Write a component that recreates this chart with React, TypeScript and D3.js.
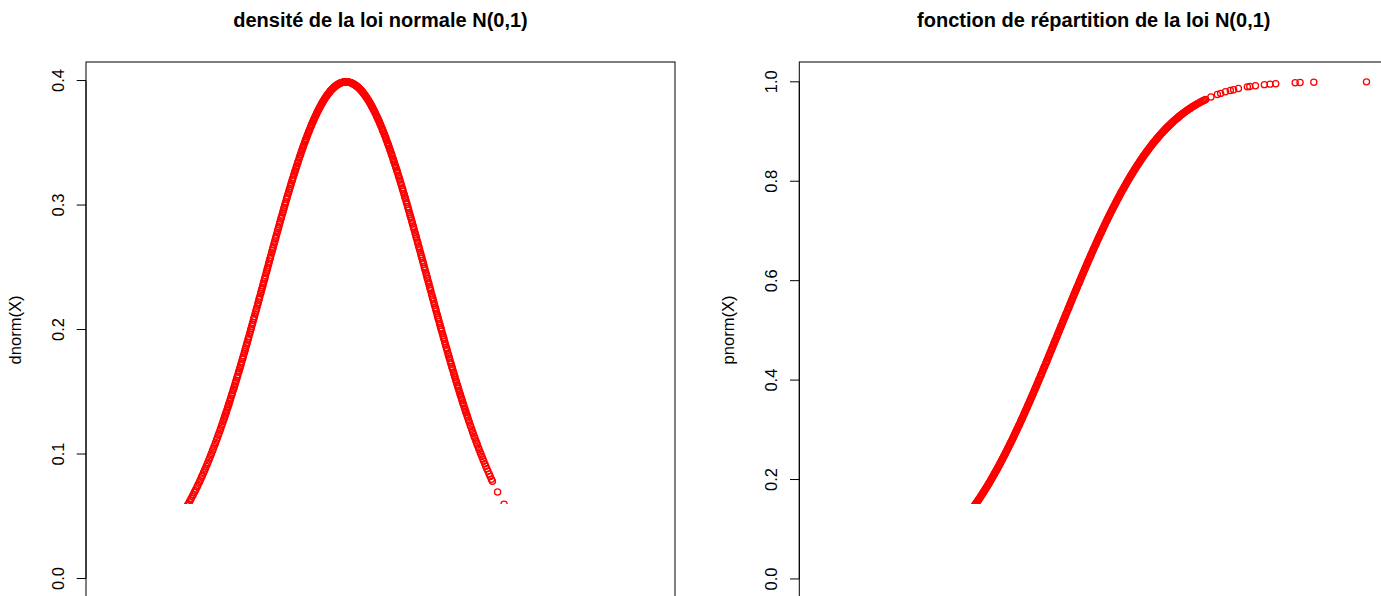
import React from "react";
import * as d3 from "d3";

// Sample X (sorted)
const X_LOW_TAIL = [-2.94, -2.68, -2.51, -2.43, -2.36, -2.29, -2.24, -2.19, -2.15, -2.11, -2.07, -2.04, -2.01, -1.995];
const X_LOW_SHOULDER = [-1.983, -1.971, -1.958, -1.949, -1.934, -1.922, -1.911, -1.897, -1.886, -1.873, -1.862, -1.851, -1.838, -1.829, -1.815, -1.804, -1.793, -1.781, -1.772, -1.759, -1.748, -1.737, -1.726, -1.714, -1.705, -1.693, -1.682, -1.671, -1.661, -1.649, -1.64, -1.629, -1.618, -1.609, -1.598, -1.588, -1.577, -1.568, -1.557, -1.548, -1.538, -1.529, -1.519, -1.51, -1.503];
const X_CORE_NEG = [
  -1.497, -1.491, -1.483, -1.478, -1.471, -1.462, -1.456, -1.449, -1.444, -1.436, -1.429,
  -1.423, -1.415, -1.41, -1.403, -1.394, -1.388, -1.381, -1.376, -1.368, -1.361,
  -1.355, -1.347, -1.342, -1.335, -1.326, -1.32, -1.313, -1.308, -1.3, -1.293,
  -1.287, -1.279, -1.274, -1.267, -1.258, -1.252, -1.245, -1.24, -1.232, -1.225,
  -1.219, -1.211, -1.206, -1.199, -1.19, -1.184, -1.177, -1.172, -1.164, -1.157,
  -1.151, -1.143, -1.138, -1.131, -1.122, -1.116, -1.109, -1.104, -1.096, -1.089,
  -1.083, -1.075, -1.07, -1.063, -1.054, -1.048, -1.041, -1.036, -1.028, -1.021,
  -1.015, -1.007, -1.002, -0.995, -0.986, -0.98, -0.973, -0.968, -0.96, -0.953,
  -0.947, -0.939, -0.934, -0.927, -0.918, -0.912, -0.905, -0.9, -0.892, -0.885,
  -0.879, -0.871, -0.866, -0.859, -0.85, -0.844, -0.837, -0.832, -0.824, -0.817,
  -0.811, -0.803, -0.798, -0.791, -0.782, -0.776, -0.769, -0.764, -0.756, -0.749,
  -0.743, -0.735, -0.73, -0.723, -0.714, -0.708, -0.701, -0.696, -0.688, -0.681,
  -0.675, -0.667, -0.662, -0.655, -0.646, -0.64, -0.633, -0.628, -0.62, -0.613,
  -0.607, -0.599, -0.594, -0.587, -0.578, -0.572, -0.565, -0.56, -0.552, -0.545,
  -0.539, -0.531, -0.526, -0.519, -0.51, -0.504, -0.497, -0.492, -0.484, -0.477,
  -0.471, -0.463, -0.458, -0.451, -0.442, -0.436, -0.429, -0.424, -0.416, -0.409,
  -0.403, -0.395, -0.39, -0.383, -0.374, -0.368, -0.361, -0.356, -0.348, -0.341,
  -0.335, -0.327, -0.322, -0.315, -0.306, -0.3, -0.293, -0.288, -0.28, -0.273,
  -0.267, -0.259, -0.254, -0.247, -0.238, -0.232, -0.225, -0.22, -0.212, -0.205,
  -0.199, -0.191, -0.186, -0.179, -0.17, -0.164, -0.157, -0.152, -0.144, -0.137,
  -0.131, -0.123, -0.118, -0.111, -0.102, -0.096, -0.089, -0.084, -0.076, -0.069,
  -0.063, -0.055, -0.05, -0.043, -0.034, -0.028, -0.021, -0.016, -0.008, -0.001,
];
const X_CORE_POS = [
  0.005, 0.013, 0.018, 0.025, 0.034, 0.04, 0.047, 0.052, 0.06, 0.067,
  0.073, 0.081, 0.086, 0.093, 0.102, 0.108, 0.115, 0.12, 0.128, 0.135,
  0.141, 0.149, 0.154, 0.161, 0.17, 0.176, 0.183, 0.188, 0.196, 0.203,
  0.209, 0.217, 0.222, 0.229, 0.238, 0.244, 0.251, 0.256, 0.264, 0.271,
  0.277, 0.285, 0.29, 0.297, 0.306, 0.312, 0.319, 0.324, 0.332, 0.339,
  0.345, 0.353, 0.358, 0.365, 0.374, 0.38, 0.387, 0.392, 0.4, 0.407,
  0.413, 0.421, 0.426, 0.433, 0.442, 0.448, 0.455, 0.46, 0.468, 0.475,
  0.481, 0.489, 0.494, 0.501, 0.51, 0.516, 0.523, 0.528, 0.536, 0.543,
  0.549, 0.557, 0.562, 0.569, 0.578, 0.584, 0.591, 0.596, 0.604, 0.611,
  0.617, 0.625, 0.63, 0.637, 0.646, 0.652, 0.659, 0.664, 0.672, 0.679,
  0.685, 0.693, 0.698, 0.705, 0.714, 0.72, 0.727, 0.732, 0.74, 0.747,
  0.753, 0.761, 0.766, 0.773, 0.782, 0.788, 0.795, 0.8, 0.808, 0.815,
  0.821, 0.829, 0.834, 0.841, 0.85, 0.856, 0.863, 0.868, 0.876, 0.883,
  0.889, 0.897, 0.902, 0.909, 0.918, 0.924, 0.931, 0.936, 0.944, 0.951,
  0.957, 0.965, 0.97, 0.977, 0.986, 0.992, 0.999, 1.004, 1.012, 1.019,
  1.025, 1.033, 1.038, 1.045, 1.054, 1.06, 1.067, 1.072, 1.08, 1.087,
  1.093, 1.101, 1.106, 1.113, 1.122, 1.128, 1.135, 1.14, 1.148, 1.155,
  1.161, 1.169, 1.174, 1.181, 1.19, 1.196, 1.203, 1.208, 1.216, 1.223,
  1.229, 1.237, 1.242, 1.249, 1.258, 1.264, 1.271, 1.276, 1.284, 1.291,
  1.297, 1.305, 1.31, 1.317, 1.326, 1.332, 1.339, 1.344, 1.352, 1.359,
  1.365, 1.373, 1.378, 1.385, 1.394, 1.4, 1.407, 1.412, 1.42, 1.427,
  1.433, 1.441, 1.446, 1.453, 1.462, 1.468, 1.475, 1.48, 1.488, 1.495,
];
const X_HIGH_SHOULDER = [1.503, 1.512, 1.521, 1.532, 1.54, 1.551, 1.561, 1.57, 1.581, 1.59, 1.601, 1.612, 1.621, 1.633, 1.642, 1.654, 1.665, 1.676, 1.688, 1.699, 1.712, 1.724, 1.737, 1.751, 1.766, 1.779, 1.794, 1.806];
const X_HIGH_TAIL = [1.87, 1.95, 1.99, 2.05, 2.11, 2.15, 2.21, 2.32, 2.35, 2.42, 2.53, 2.6, 2.67, 2.91, 2.97, 3.14, 3.79];

const DENS_TICKS = [0, 0.1, 0.2, 0.3, 0.4];
const CDF_TICKS = [0, 0.2, 0.4, 0.6, 0.8, 1.0];

const TITLE_DENS = "densité de la loi normale N(0,1)";
const TITLE_CDF = "fonction de répartition de la loi N(0,1)";
const YLAB_DENS = "dnorm(X)";
const YLAB_CDF = "pnorm(X)";

const X: number[] = [
  ...X_LOW_TAIL,
  ...X_LOW_SHOULDER,
  ...X_CORE_NEG,
  ...X_CORE_POS,
  ...X_HIGH_SHOULDER,
  ...X_HIGH_TAIL,
];

function dnorm(x: number) {
  return Math.exp((-x * x) / 2) / Math.sqrt(2 * Math.PI);
}
function erf(x: number) {
  const s = x < 0 ? -1 : 1;
  const a = Math.abs(x);
  const t = 1 / (1 + 0.3275911 * a);
  const y =
    1 -
    ((((1.061405429 * t - 1.453152027) * t + 1.421413741) * t - 0.284496736) * t + 0.254829592) *
      t *
      Math.exp(-a * a);
  return s * y;
}
function pnorm(x: number) {
  return 0.5 * (1 + erf(x / Math.SQRT2));
}

// R-style 4% axis extension
function rDomain(ext: [number, number]): [number, number] {
  const d = (ext[1] - ext[0]) * 0.04;
  return [ext[0] - d, ext[1] + d];
}

const W = 1381;
const H = 596;
const TOP = 62;
const BOTTOM = 598;
const PW = 589;
const CUT_Y = 504; // the reference hides marks below this line
const FONT = "'Liberation Sans', Arial, Helvetica, sans-serif";

type PanelProps = {
  id: string;
  left: number;
  title: string;
  ylab: string;
  ticks: number[];
  f: (x: number) => number;
};

function Panel({ id, left, title, ylab, ticks, f }: PanelProps) {
  const xExt = d3.extent(X) as [number, number];
  const ys = X.map(f);
  const yExt = d3.extent(ys) as [number, number];
  const xs = d3.scaleLinear().domain(rDomain(xExt)).range([left, left + PW]);
  const yScale = d3.scaleLinear().domain(rDomain(yExt)).range([BOTTOM, TOP]);
  const fmt = d3.format(".1f");
  const cx = left + PW / 2;
  const cy = (TOP + BOTTOM) / 2;
  return (
    <g>
      <defs>
        <clipPath id={id}>
          <rect x={left} y={TOP} width={PW} height={CUT_Y - TOP} />
        </clipPath>
      </defs>
      <text
        x={cx}
        y={26.5}
        textAnchor="middle"
        fontFamily={FONT}
        fontWeight="bold"
        fontSize={20}
        fill="#000"
      >
        {title}
      </text>
      <rect x={left} y={TOP} width={PW} height={BOTTOM - TOP} fill="none" stroke="#000" strokeWidth={1} />
      <g>
        <line x1={left} x2={left} y1={yScale(ticks[0])} y2={yScale(ticks[ticks.length - 1])} stroke="#000" />
        {ticks.map((t) => (
          <g key={t}>
            <line x1={left - 9.3} x2={left} y1={yScale(t)} y2={yScale(t)} stroke="#000" />
            <text
              transform={`translate(${left - 22.5},${yScale(t)}) rotate(-90)`}
              textAnchor="middle"
              fontFamily={FONT}
              fontSize={16.5}
              fill="#000"
            >
              {fmt(t)}
            </text>
          </g>
        ))}
      </g>
      <text
        transform={`translate(${left - 65},${cy}) rotate(-90)`}
        textAnchor="middle"
        fontFamily={FONT}
        fontSize={16.5}
        fill="#000"
      >
        {ylab}
      </text>
      <g clipPath={`url(#${id})`}>
        {X.map((x, i) => (
          <circle key={i} cx={xs(x)} cy={yScale(ys[i])} r={3.1} fill="none" stroke="#ff0000" strokeWidth={1.25} />
        ))}
      </g>
    </g>
  );
}

export default function App() {
  return (
    <div style={{ position: "absolute", left: 0, top: 0 }}>
      <svg width={W} height={H} style={{ display: "block", background: "#fff" }}>
        <rect x={0} y={0} width={W} height={H} fill="#fff" />
        <Panel id="clipA" left={86} title={TITLE_DENS} ylab={YLAB_DENS} ticks={DENS_TICKS} f={dnorm} />
        <Panel id="clipB" left={799.3} title={TITLE_CDF} ylab={YLAB_CDF} ticks={CDF_TICKS} f={pnorm} />
      </svg>
    </div>
  );
}
